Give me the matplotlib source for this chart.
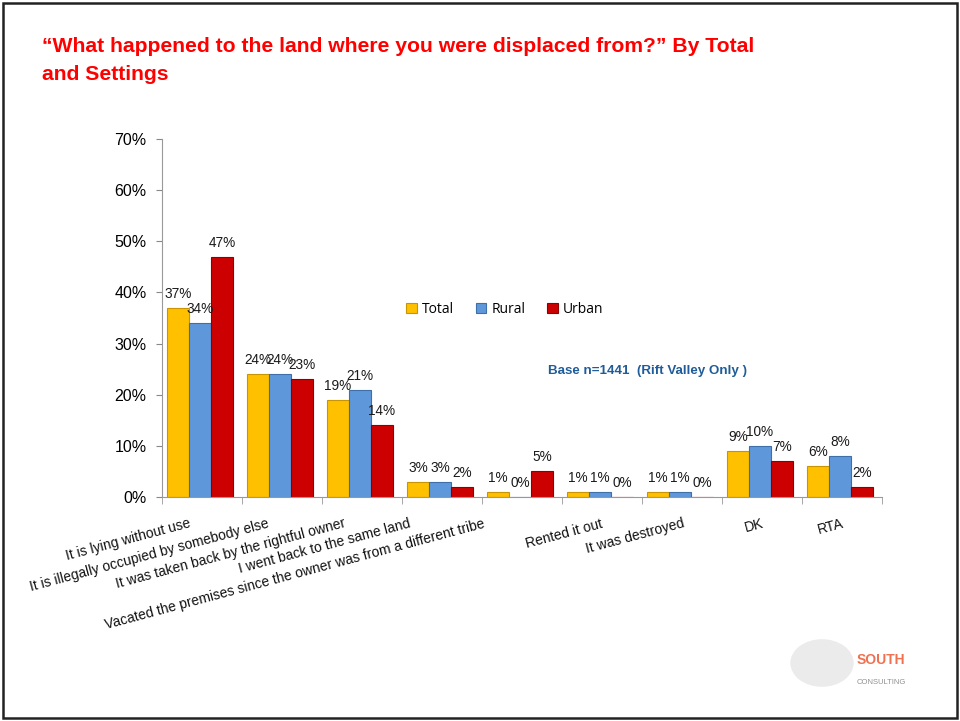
import matplotlib
matplotlib.use('Agg')
import matplotlib.pyplot as plt
import matplotlib.transforms as mtransforms
from matplotlib.patches import Rectangle, Circle
import numpy as np

''' Chart data '''
categories = ['It is lying without use',
              'It is illegally occupied by somebody else',
              'It was taken back by the rightful owner',
              'I went back to the same land',
              'Vacated the premises since the owner was from a different tribe',
              'Rented it out',
              'It was destroyed',
              'DK',
              'RTA']
series_names = ['Total', 'Rural', 'Urban']
total = [37, 24, 19, 3, 1, 1, 1, 9, 6]
rural = [34, 24, 21, 3, 0, 1, 1, 10, 8]
urban = [47, 23, 14, 2, 5, 0, 0, 7, 2]
y_ticks = [0, 10, 20, 30, 40, 50, 60, 70]

# label shift to the left (in pixels), like the staggered labels in the original
label_shift_px = [14, 15, 19, 34, 39, 2, 0, 0, 0]

title = '\u201cWhat happened to the land where you were displaced from?\u201d By Total\nand Settings'
base_note = 'Base n=1441  (Rift Valley Only )'

face_colors = ['#FFC000', '#5F98DA', '#CC0000']
edge_colors = ['#C89400', '#3E6FA8', '#8C0000']

plt.rcParams['font.family'] = ['Liberation Sans', 'DejaVu Sans']

fig = plt.figure(figsize=(9.6, 7.21), dpi=100)
ax = fig.add_axes([162 / 960, 224 / 721, 720 / 960, 358 / 721])

x = np.arange(len(categories))
bar_w = 0.275
for i, values in enumerate([total, rural, urban]):
    pos = x + (i - 1) * bar_w - 0.025
    bars = ax.bar(pos, values, width=bar_w, color=face_colors[i],
                  edgecolor=edge_colors[i], linewidth=0.8,
                  label=series_names[i], zorder=2)
    for b, v in zip(bars, values):
        ax.annotate('{}%'.format(v), (b.get_x() + b.get_width() / 2, v),
                    xytext=(0, 5), textcoords='offset points',
                    ha='center', va='bottom', fontsize=9.8, color='#1a1a1a')

# Axes styling
ax.set_xlim(-0.5, len(categories) - 0.5)
ax.set_ylim(0, 70)
ax.set_yticks(y_ticks)
ax.set_yticklabels(['{}%'.format(t) for t in y_ticks], fontsize=11.5)
ax.tick_params(axis='y', length=4, color='#888888', pad=7)
for side in ['top', 'right']:
    ax.spines[side].set_visible(False)
for side in ['left', 'bottom']:
    ax.spines[side].set_color('#999999')

ax.set_xticks(x)
ax.set_xticks(np.arange(len(categories) + 1) - 0.5, minor=True)
ax.tick_params(axis='x', which='major', length=0, pad=14)
ax.tick_params(axis='x', which='minor', length=5, color='#999999')
ax.set_xticklabels(categories, rotation=15, ha='right',
                   rotation_mode='anchor', fontsize=10, color='#111111')
for lab, dx in zip(ax.get_xticklabels(), label_shift_px):
    lab.set_transform(lab.get_transform() +
                      mtransforms.ScaledTranslation(-dx / 100, 0, fig.dpi_scale_trans))

# Legend
leg = ax.legend(loc='center left', bbox_to_anchor=(0.322, 0.525), ncol=3,
                frameon=False, handlelength=0.75, handleheight=0.75,
                handletextpad=0.35, columnspacing=1.6,
                prop={'family': ['Open Sans', 'DejaVu Sans'], 'size': 10})

ax.text(0.536, 0.352, base_note, transform=ax.transAxes, fontsize=9.6,
        fontweight='bold', color='#1F5C99', va='center')

# Title
fig.text(42 / 960, 1 - 37 / 721, title, ha='left', va='top', color='#FF0000',
         fontsize=15.2, fontweight='bold', linespacing=1.6)

# Logo, roughly
fig.patches.append(Circle((822 / 960, 1 - 663 / 721), 0.033, transform=fig.transFigure,
                          facecolor='#e6e6e6', edgecolor='none', alpha=0.8))
fig.text(857 / 960, 1 - 667 / 721, 'SOUTH', color='#F07050', fontsize=10,
         fontweight='bold', va='bottom')
fig.text(857 / 960, 1 - 683 / 721, 'CONSULTING', color='#909090', fontsize=5.5,
         va='center')

# Slide border
fig.patches.append(Rectangle((3 / 960, 3 / 721), 954 / 960, 715 / 721,
                             transform=fig.transFigure, fill=False,
                             edgecolor='#222222', linewidth=1.8))

fig.savefig('out.png', dpi=100)
